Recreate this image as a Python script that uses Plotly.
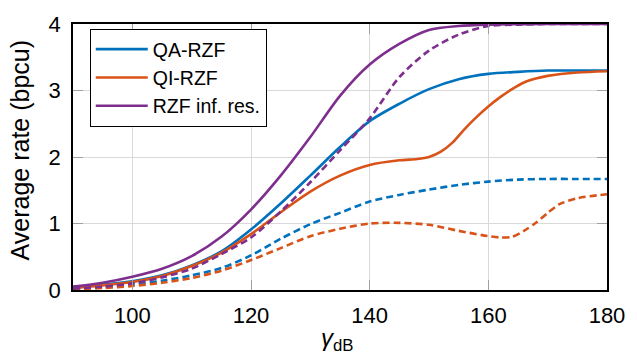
import plotly.graph_objects as go

# x positions (gamma_dB) and values for each series
x_qa = [90, 95, 100, 105, 110, 115, 120, 125, 130, 135, 140, 145, 150, 155, 160, 165, 170, 175, 180]
qa_rzf = [0.04, 0.08, 0.13, 0.22, 0.37, 0.58, 0.91, 1.30, 1.72, 2.15, 2.54, 2.80, 3.02, 3.17, 3.25, 3.28, 3.30, 3.30, 3.30]

x_qi = [90, 95, 100, 105, 110, 115, 120, 125, 130, 135, 140, 145, 148, 150, 152, 154, 156, 158, 160, 162, 164, 166, 168, 170, 175, 180]
qi_rzf = [0.03, 0.07, 0.12, 0.21, 0.36, 0.56, 0.84, 1.17, 1.48, 1.72, 1.88, 1.95, 1.97, 2.00, 2.08, 2.22, 2.42, 2.60, 2.76, 2.90, 3.02, 3.12, 3.18, 3.22, 3.27, 3.29]

x_inf = [90, 95, 100, 105, 110, 115, 120, 125, 130, 135, 140, 145, 150, 155, 160, 170, 180]
rzf_inf = [0.05, 0.11, 0.20, 0.32, 0.51, 0.80, 1.21, 1.72, 2.30, 2.92, 3.39, 3.70, 3.91, 3.97, 3.99, 4.0, 4.0]

x_qa_d = [90, 95, 100, 105, 110, 115, 120, 125, 130, 135, 140, 145, 150, 155, 160, 165, 170, 175, 180]
qa_rzf_d = [0.02, 0.04, 0.08, 0.14, 0.22, 0.33, 0.52, 0.77, 0.99, 1.16, 1.33, 1.43, 1.51, 1.58, 1.63, 1.66, 1.67, 1.67, 1.67]

x_qi_d = [90, 95, 100, 105, 110, 115, 120, 125, 130, 135, 140, 145, 150, 155, 160, 162, 164, 166, 168, 170, 172, 175, 180]
qi_rzf_d = [0.01, 0.03, 0.06, 0.11, 0.18, 0.29, 0.45, 0.63, 0.81, 0.92, 1.00, 1.01, 0.98, 0.89, 0.81, 0.79, 0.80, 0.89, 1.01, 1.16, 1.29, 1.38, 1.44]

x_inf_d = [90, 95, 100, 105, 110, 115, 120, 125, 130, 135, 140, 145, 150, 155, 160, 165, 170, 180]
rzf_inf_d = [0.02, 0.05, 0.10, 0.19, 0.32, 0.54, 0.79, 1.18, 1.62, 2.10, 2.58, 3.20, 3.60, 3.84, 3.97, 3.99, 4.0, 4.0]

names = ["QA-RZF", "QI-RZF", "RZF inf. res."]
colors = ["#0072BD", "#D95319", "#7E2F8E"]
x_tick_vals = [100, 120, 140, 160, 180]
y_tick_vals = [0, 1, 2, 3, 4]

fig = go.Figure()
for name, xs, ys, c in zip(names, [x_qa, x_qi, x_inf], [qa_rzf, qi_rzf, rzf_inf], colors):
    fig.add_trace(go.Scatter(x=xs, y=ys, mode="lines", name=name,
                             line=dict(color=c, width=2.6, shape="spline", smoothing=0.8)))
for xs, ys, c in zip([x_qa_d, x_qi_d, x_inf_d], [qa_rzf_d, qi_rzf_d, rzf_inf_d], colors):
    fig.add_trace(go.Scatter(x=xs, y=ys, mode="lines", showlegend=False,
                             line=dict(color=c, width=2.6, dash="7px,4px", shape="spline", smoothing=0.8)))

font_family = "Liberation Sans"
W, H = 637, 354
l, r, t, b = 73, 22, 19, 64
pw, ph = W - l - r, H - t - b


def px_x(x):
    return (x - l) / pw


def px_y(y):
    return (H - b - y) / ph


axis_common = dict(
    showgrid=True, gridcolor="#d9d9d9", gridwidth=1,
    showline=True, linecolor="black", linewidth=1.5, mirror="allticks",
    ticks="inside", ticklen=10, tickcolor="#a0a0a0",
    zeroline=False, tickfont=dict(family=font_family, size=22, color="black"),
)

fig.update_layout(
    width=W, height=H,
    margin=dict(l=l, r=r, t=t, b=b),
    paper_bgcolor="white", plot_bgcolor="white",
    font=dict(family=font_family, size=22, color="black"),
    showlegend=True,
    legend=dict(x=px_x(90), y=px_y(24), xanchor="left", yanchor="top",
                bordercolor="black", borderwidth=1, bgcolor="white",
                font=dict(family=font_family, size=19.5, color="black"),
                tracegroupgap=0, itemwidth=52),
    xaxis=dict(range=[90, 180], tickvals=x_tick_vals, ticklabelstandoff=5, **axis_common),
    yaxis=dict(range=[0, 4], tickvals=y_tick_vals, ticklabelstandoff=6, **axis_common),
    annotations=[
        dict(text="Average rate (bpcu)", textangle=-90, x=px_x(19), y=px_y(147),
             xref="paper", yref="paper", xanchor="center", yanchor="middle", showarrow=False,
             font=dict(family=font_family, size=25, color="black")),
        dict(text="<i>γ</i><sub>dB</sub>", x=px_x(341), y=px_y(340),
             xref="paper", yref="paper", xanchor="center", yanchor="middle", showarrow=False,
             font=dict(family=font_family, size=24, color="black")),
    ],
)

fig.write_html("out.html")
